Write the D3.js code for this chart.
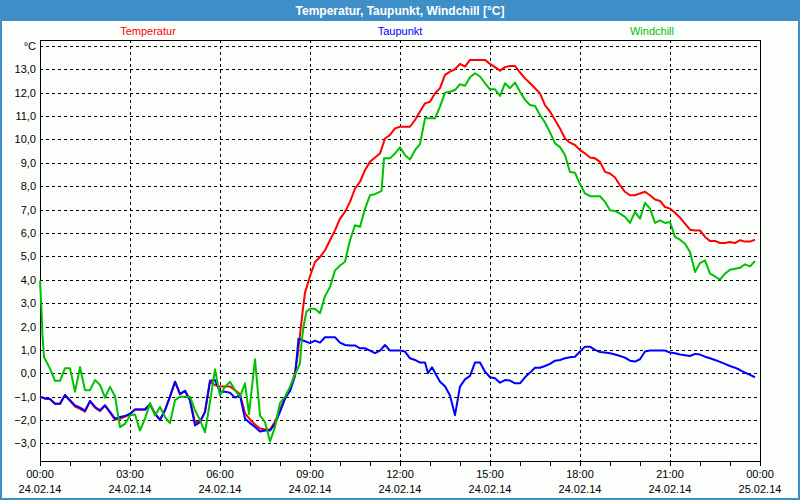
<!DOCTYPE html>
<html><head><meta charset="utf-8">
<script src="https://cdn.jsdelivr.net/npm/d3@7"></script>
<style>
body{margin:0;background:#fff}
svg{display:block}
text{font-family:"Liberation Sans",Arial,sans-serif}
</style>
</head><body>
<svg id="c" width="800" height="500"></svg>
<script>
const title = "Temperatur, Taupunkt, Windchill [°C]";
const seriesNames = ["Temperatur", "Taupunkt", "Windchill"];
const seriesColors = ["#ff0000", "#0000ff", "#00c000"];
const yTicks = [-3,-2,-1,0,1,2,3,4,5,6,7,8,9,10,11,12,13];
const yUnitLabel = "°C";
const xTickMinutes = [0,180,360,540,720,900,1080,1260,1440];
const xTimeLabels = ["00:00","03:00","06:00","09:00","12:00","15:00","18:00","21:00","00:00"];
const xDateLabels = ["24.02.14","24.02.14","24.02.14","24.02.14","24.02.14","24.02.14","24.02.14","24.02.14","25.02.14"];

// [minutes since 24.02.14 00:00, °C]
const temperatur = [[0,-1.0],[10,-1.08],[20,-1.1],[30,-1.3],[40,-1.3],[50,-0.93],[60,-1.18],[70,-1.42],[80,-1.52],[90,-1.64],[100,-1.2],[110,-1.47],[120,-1.62],[130,-1.38],[140,-1.68],[150,-1.98],[160,-1.95],[170,-1.85],[180,-1.75],[190,-1.55],[200,-1.55],[210,-1.55],[220,-1.32],[230,-1.73],[240,-1.99],[250,-1.58],[260,-1.0],[270,-0.36],[280,-0.89],[290,-0.75],[300,-1.15],[310,-2.1],[320,-2.05],[330,-1.65],[340,-0.35],[350,-0.5],[360,-0.57],[370,-0.57],[380,-0.57],[390,-0.72],[400,-0.9],[410,-1.71],[420,-1.97],[430,-2.19],[440,-2.36],[450,-2.4],[460,-2.4],[470,-2.07],[480,-1.54],[490,-1.07],[500,-0.64],[510,0.0],[515,0.74],[520,1.65],[525,2.6],[530,3.45],[540,4.15],[550,4.76],[560,4.97],[570,5.26],[580,5.69],[590,6.11],[600,6.61],[610,6.9],[620,7.33],[630,7.9],[640,8.19],[650,8.69],[660,9.04],[670,9.23],[680,9.4],[690,10.04],[700,10.19],[710,10.47],[720,10.54],[730,10.54],[740,10.54],[750,10.83],[760,11.19],[770,11.54],[780,11.61],[790,11.97],[800,12.19],[810,12.76],[820,12.9],[830,13.0],[840,13.23],[850,13.11],[860,13.4],[870,13.4],[880,13.4],[890,13.4],[900,13.23],[910,13.09],[920,12.94],[930,13.09],[940,13.14],[950,13.14],[960,12.86],[970,12.61],[980,12.4],[990,12.19],[1000,11.97],[1010,11.47],[1020,11.19],[1030,10.83],[1040,10.47],[1050,10.04],[1060,9.86],[1070,9.76],[1080,9.54],[1090,9.4],[1100,9.23],[1110,9.19],[1120,9.04],[1130,8.61],[1140,8.54],[1150,8.37],[1160,8.04],[1170,7.76],[1180,7.61],[1190,7.61],[1200,7.69],[1210,7.76],[1220,7.61],[1230,7.43],[1240,7.37],[1250,7.11],[1260,7.04],[1270,6.86],[1280,6.66],[1290,6.4],[1300,6.14],[1310,6.11],[1320,6.11],[1330,5.83],[1340,5.66],[1350,5.66],[1360,5.57],[1370,5.57],[1380,5.61],[1390,5.57],[1400,5.69],[1410,5.63],[1420,5.63],[1430,5.71]];

const taupunkt = [[0,-1.0],[10,-1.08],[20,-1.1],[30,-1.3],[40,-1.3],[50,-0.93],[60,-1.15],[70,-1.37],[80,-1.47],[90,-1.6],[100,-1.18],[110,-1.44],[120,-1.58],[130,-1.37],[140,-1.65],[150,-1.94],[160,-1.87],[170,-1.83],[180,-1.73],[190,-1.55],[200,-1.55],[210,-1.55],[220,-1.32],[230,-1.73],[240,-1.99],[250,-1.58],[260,-1.0],[270,-0.36],[280,-0.89],[290,-0.75],[300,-1.15],[310,-2.23],[320,-2.09],[330,-1.65],[340,-0.32],[350,-0.29],[360,-0.79],[370,-0.79],[380,-0.83],[390,-1.04],[400,-0.94],[410,-1.94],[420,-2.13],[430,-2.3],[440,-2.49],[450,-2.45],[460,-2.45],[470,-2.16],[480,-1.65],[490,-1.08],[500,-0.76],[510,-0.12],[517,1.47],[530,1.37],[540,1.29],[550,1.4],[560,1.31],[570,1.54],[580,1.54],[590,1.54],[600,1.31],[610,1.21],[620,1.19],[630,1.19],[640,1.07],[650,1.07],[660,0.97],[670,0.86],[680,0.97],[690,1.21],[700,0.97],[710,0.97],[720,0.97],[730,0.93],[740,0.64],[750,0.57],[760,0.46],[770,0.46],[776,0.0],[784,0.26],[792,-0.05],[800,-0.36],[810,-0.55],[820,-0.95],[830,-1.79],[840,-0.57],[850,-0.26],[860,-0.11],[870,0.46],[880,0.46],[890,0.07],[900,-0.17],[910,-0.21],[920,-0.4],[930,-0.29],[940,-0.31],[950,-0.43],[960,-0.43],[970,-0.17],[980,0.03],[990,0.24],[1000,0.24],[1010,0.31],[1020,0.4],[1030,0.54],[1040,0.57],[1050,0.64],[1060,0.69],[1070,0.71],[1080,0.93],[1090,1.14],[1100,1.14],[1110,1.0],[1120,0.91],[1130,0.89],[1140,0.86],[1150,0.8],[1160,0.74],[1170,0.67],[1180,0.54],[1190,0.5],[1200,0.6],[1210,0.93],[1220,0.97],[1230,0.97],[1240,0.97],[1250,0.97],[1260,0.89],[1270,0.86],[1280,0.8],[1290,0.77],[1300,0.74],[1310,0.83],[1320,0.8],[1330,0.71],[1340,0.64],[1350,0.57],[1360,0.49],[1370,0.4],[1380,0.31],[1390,0.24],[1400,0.14],[1410,0.03],[1420,-0.07],[1430,-0.17]];

const windchill = [[0,3.96],[3,2.7],[5,1.6],[8,0.7],[20,0.2],[30,-0.32],[40,-0.32],[50,0.22],[60,0.22],[70,-0.79],[80,0.26],[90,-0.72],[100,-0.72],[110,-0.29],[120,-0.5],[130,-1.04],[140,-0.58],[150,-0.98],[160,-2.3],[170,-2.16],[180,-1.8],[190,-1.76],[200,-2.45],[210,-1.94],[220,-1.27],[230,-1.8],[240,-1.44],[250,-1.87],[260,-2.13],[270,-1.15],[280,-1.0],[290,-1.0],[300,-1.0],[310,-1.58],[320,-2.0],[330,-2.52],[340,-1.22],[350,0.17],[360,-0.94],[370,-0.58],[380,-0.36],[390,-0.72],[400,-1.0],[410,-0.43],[418,-1.75],[430,0.6],[440,-1.8],[450,-2.09],[460,-2.91],[470,-2.3],[480,-1.27],[490,-1.0],[500,-0.58],[510,-0.07],[520,0.43],[523,1.3],[527,2.0],[533,2.64],[540,2.76],[550,2.76],[560,2.57],[570,3.3],[580,3.69],[590,4.4],[600,4.61],[610,4.77],[620,5.69],[630,6.33],[640,6.26],[650,7.04],[660,7.61],[670,7.66],[683,7.8],[688,9.19],[700,9.19],[710,9.4],[720,9.66],[730,9.33],[740,9.14],[750,9.54],[760,9.8],[770,10.9],[780,10.9],[790,10.9],[800,11.4],[810,12.0],[820,12.04],[830,12.11],[840,12.36],[850,12.29],[860,12.66],[870,12.83],[880,12.69],[890,12.4],[900,12.14],[910,12.14],[920,11.86],[930,12.4],[940,12.19],[950,12.43],[960,12.04],[970,11.69],[980,11.47],[990,11.43],[1000,11.04],[1010,10.72],[1020,10.3],[1030,9.83],[1040,9.67],[1050,9.33],[1060,8.61],[1070,8.57],[1080,8.09],[1090,7.69],[1100,7.57],[1110,7.57],[1120,7.57],[1130,7.33],[1140,6.97],[1150,6.94],[1160,6.83],[1170,6.69],[1180,6.43],[1190,6.9],[1200,6.61],[1210,7.29],[1220,7.04],[1230,6.43],[1240,6.54],[1250,6.43],[1260,6.47],[1270,5.83],[1280,5.71],[1290,5.54],[1300,5.19],[1310,4.33],[1320,4.71],[1330,4.83],[1340,4.26],[1350,4.14],[1360,4.0],[1370,4.26],[1380,4.43],[1390,4.47],[1400,4.51],[1410,4.66],[1420,4.57],[1430,4.8]];

const seriesData = [temperatur, taupunkt, windchill];

const svg = d3.select("#c");
const W = 800, H = 500;
const L = 40, R = 760, T = 40, B = 461;

const x = d3.scaleLinear().domain([0, 1440]).range([L, R]);
const y = d3.scaleLinear().domain([-3.75, 14.25]).range([B, T]);

// background
svg.append("rect").attr("width", W).attr("height", H).attr("fill", "#fbfefb");
// title bar
svg.append("rect").attr("x", 0).attr("y", 0).attr("width", W).attr("height", 21).attr("fill", "#3e8fc7");
svg.append("text").attr("x", 400).attr("y", 15).attr("text-anchor", "middle")
  .attr("fill", "#fff").attr("font-weight", "bold").attr("font-size", 12).text(title);
// outer frame
svg.append("rect").attr("x", 1).attr("y", 1).attr("width", W - 2).attr("height", H - 2)
  .attr("fill", "none").attr("stroke", "#3e8fc7").attr("stroke-width", 2);

// legend
const legendX = [148, 400, 652];
seriesNames.forEach((n, i) => {
  svg.append("text").attr("x", legendX[i]).attr("y", 35).attr("text-anchor", "middle")
    .attr("font-size", 11).attr("fill", seriesColors[i]).text(n);
});

// gridlines
const grid = svg.append("g").attr("stroke", "#000").attr("stroke-dasharray", "3,3").attr("shape-rendering", "crispEdges");
yTicks.concat([14]).forEach(v => {
  grid.append("line").attr("x1", L).attr("x2", R).attr("y1", Math.round(y(v)) + 0.5).attr("y2", Math.round(y(v)) + 0.5);
});
xTickMinutes.slice(1, -1).forEach(m => {
  grid.append("line").attr("y1", T).attr("y2", B).attr("x1", Math.round(x(m)) + 0.5).attr("x2", Math.round(x(m)) + 0.5);
});

// y labels
const fmt = d3.format(".1f");
yTicks.forEach(v => {
  svg.append("text").attr("x", 36).attr("y", y(v) + 4).attr("text-anchor", "end")
    .attr("font-size", 11).attr("fill", "#000").text(fmt(v).replace(".", ","));
});
svg.append("text").attr("x", 36).attr("y", y(14) + 4).attr("text-anchor", "end")
  .attr("font-size", 11).attr("fill", "#000").text(yUnitLabel);

// x axis with hourly ticks
const xAxis = d3.axisBottom(x).tickValues(d3.range(0, 1441, 60)).tickSize(4).tickFormat("");
const gx = svg.append("g").attr("transform", `translate(0,${B + 0.5})`).call(xAxis);
gx.select(".domain").remove();
gx.selectAll("line").attr("stroke", "#000").attr("shape-rendering", "crispEdges");

xTickMinutes.forEach((m, i) => {
  svg.append("text").attr("x", x(m)).attr("y", 478).attr("text-anchor", "middle")
    .attr("font-size", 11).attr("fill", "#000").text(xTimeLabels[i]);
  svg.append("text").attr("x", x(m)).attr("y", 493).attr("text-anchor", "middle")
    .attr("font-size", 11).attr("fill", "#000").text(xDateLabels[i]);
});

// plot frame
svg.append("rect").attr("x", L + 0.5).attr("y", T + 0.5).attr("width", R - L).attr("height", B - T)
  .attr("fill", "none").attr("stroke", "#000").attr("shape-rendering", "crispEdges");

// series lines
const line = d3.line().x(d => x(d[0])).y(d => y(d[1]));
seriesData.forEach((data, i) => {
  svg.append("path").datum(data).attr("d", line).attr("fill", "none")
    .attr("stroke", seriesColors[i]).attr("stroke-width", 2).attr("stroke-linejoin", "round");
});
</script>
</body></html>
